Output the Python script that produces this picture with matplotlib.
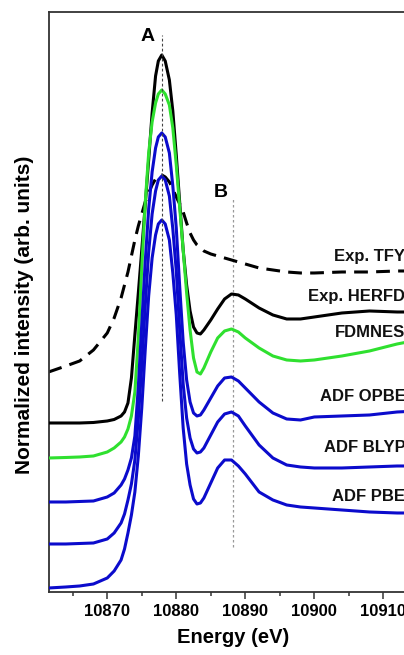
import numpy as np
import matplotlib
matplotlib.use("Agg")
import matplotlib.pyplot as plt

plt.rcParams['font.family'] = ['Liberation Sans', 'DejaVu Sans']
plt.rcParams['font.weight'] = 'bold'

# energy grid (eV)
energy = [10861.5, 10864, 10866, 10868, 10870, 10871,
          10872, 10872.5, 10873, 10873.5, 10874, 10874.5, 10875, 10875.5, 10876, 10876.5,
          10877, 10877.4, 10877.9, 10878.4, 10879, 10879.5, 10880, 10880.5, 10881, 10881.5,
          10882, 10882.5, 10883, 10883.5, 10884,
          10885, 10886, 10887, 10888, 10889, 10890, 10892, 10894, 10896, 10898,
          10900, 10904, 10908, 10912, 10915]

# intensities (arb. units, baseline subtracted)
exp_tfy = [0, 6, 11, 22, 39, 54,
           74, 87, 100, 116, 132, 146, 158, 170, 179, 187,
           193, 196, 197, 195, 190, 183, 175, 168, 160, 149,
           139, 132, 127, 124, 121,
           118, 116, 114, 112, 110, 108, 104, 102, 100, 99, 99, 100, 100, 101, 101]
exp_herfd = [0, 0, 0, 0.5, 2, 3.5,
             7, 11, 20, 45, 88, 130, 173, 218, 263, 310,
             347, 362, 368, 362, 343, 312, 268, 220, 173, 138,
             112, 96, 90, 89, 93,
             103, 114, 124, 129, 128, 124, 115, 108, 104, 104, 106, 110, 112, 111, 111]
fdmnes = [0, 0.5, 1, 2, 6, 10,
          16, 21, 29, 42, 66, 120, 190, 255, 305, 336,
          355, 364, 368, 364, 353, 330, 293, 250, 208, 165,
          128, 100, 86, 84, 90,
          106, 120, 127, 129, 126, 120, 110, 102, 98, 97, 98, 102, 107, 114, 118]
adf_opbe = [0, 0, 0.5, 1, 5, 9,
            17, 23, 32, 44, 66, 115, 178, 240, 293, 330,
            354, 365, 369, 365, 349, 316, 274, 215, 160, 122,
            100, 89, 86, 87, 92,
            104, 116, 124, 125, 121, 114, 100, 89, 83, 82, 85, 86, 87, 90, 91]
adf_blyp = [0, 0, 0.5, 1, 5, 11,
            21, 30, 44, 60, 84, 125, 178, 238, 292, 330,
            353, 364, 368, 364, 348, 315, 273, 214, 160, 126,
            106, 95, 91, 92, 96,
            109, 122, 130, 132, 128, 118, 99, 86, 79, 77, 76, 76, 77, 78, 78]
adf_pbe = [0, 1, 2, 4, 10, 17,
           28, 39, 55, 73, 96, 132, 180, 238, 292, 330,
           353, 364, 368, 364, 348, 315, 273, 214, 160, 124,
           103, 89, 84, 85, 90,
           105, 120, 128, 128, 122, 114, 96, 88, 83, 81, 80, 78, 76, 75, 75]

names = ['Exp. TFY', 'Exp. HERFD', 'FDMNES', 'ADF OPBE', 'ADF BLYP', 'ADF PBE']
offsets = [220, 169, 134, 90, 48, 4]
label_y = [335, 295, 259, 195, 144, 95]

peak_a = 10877.9
peak_b = 10888.2

series = [exp_tfy, exp_herfd, fdmnes, adf_opbe, adf_blyp, adf_pbe]
colors = ['black', 'black', '#2fe02f', '#0b0bcc', '#0b0bcc', '#0b0bcc']

fig = plt.figure(figsize=(4.04, 6.55), dpi=100)
ax = fig.add_axes([0.1203, 0.0962, 0.9139, 0.8855])

e = np.array(energy)
for i, (vals, c) in enumerate(zip(series, colors)):
    y = np.array(vals) + offsets[i]
    if i == 0:
        ax.plot(e, y, color=c, lw=2.2, dashes=(4.5, 2.7), zorder=2)
    else:
        ax.plot(e, y, color=c, lw=2.2, solid_capstyle='round',
                solid_joinstyle='round', zorder=3)
    ax.text(10913.2, label_y[i], names[i], ha='right', va='center', fontsize=12,
            fontweight='bold', color='#111111')

# peak markers
ax.plot([peak_a, peak_a], [191, 557], color='#444444', lw=0.8, dashes=(2.5, 2), zorder=4)
ax.plot([peak_b, peak_b], [45, 393], color='#999999', lw=0.9, dashes=(2, 2), zorder=1)
ax.text(peak_a - 2, 555, 'A', ha='center', va='center', fontsize=14, fontweight='bold')
ax.text(peak_b - 1.7, 399, 'B', ha='center', va='center', fontsize=14, fontweight='bold')

ax.set_xlim(10861.5, 10915)
ax.set_ylim(0, 580)
ax.set_xticks([10870, 10880, 10890, 10900, 10910])
ax.set_xticks([10865, 10875, 10885, 10895, 10905], minor=True)
ax.set_yticks([])
ax.tick_params(axis='x', which='major', direction='out', length=5, width=1.1,
               labelsize=12, pad=4, color='#333333')
ax.tick_params(axis='x', which='minor', direction='out', length=3, width=1.1,
               color='#333333')
for lab in ax.get_xticklabels():
    lab.set_fontweight('bold')
for s in ax.spines.values():
    s.set_linewidth(1.3)
    s.set_color('#333333')

ax.set_xlabel('Energy (eV)', fontsize=14.5, fontweight='bold', labelpad=6)
fig.text(25 / 404, 1 - 315 / 655, 'Normalized intensity (arb. units)', rotation=90,
         ha='center', va='center', fontsize=15, fontweight='bold')

fig.savefig('out.png', dpi=100)
